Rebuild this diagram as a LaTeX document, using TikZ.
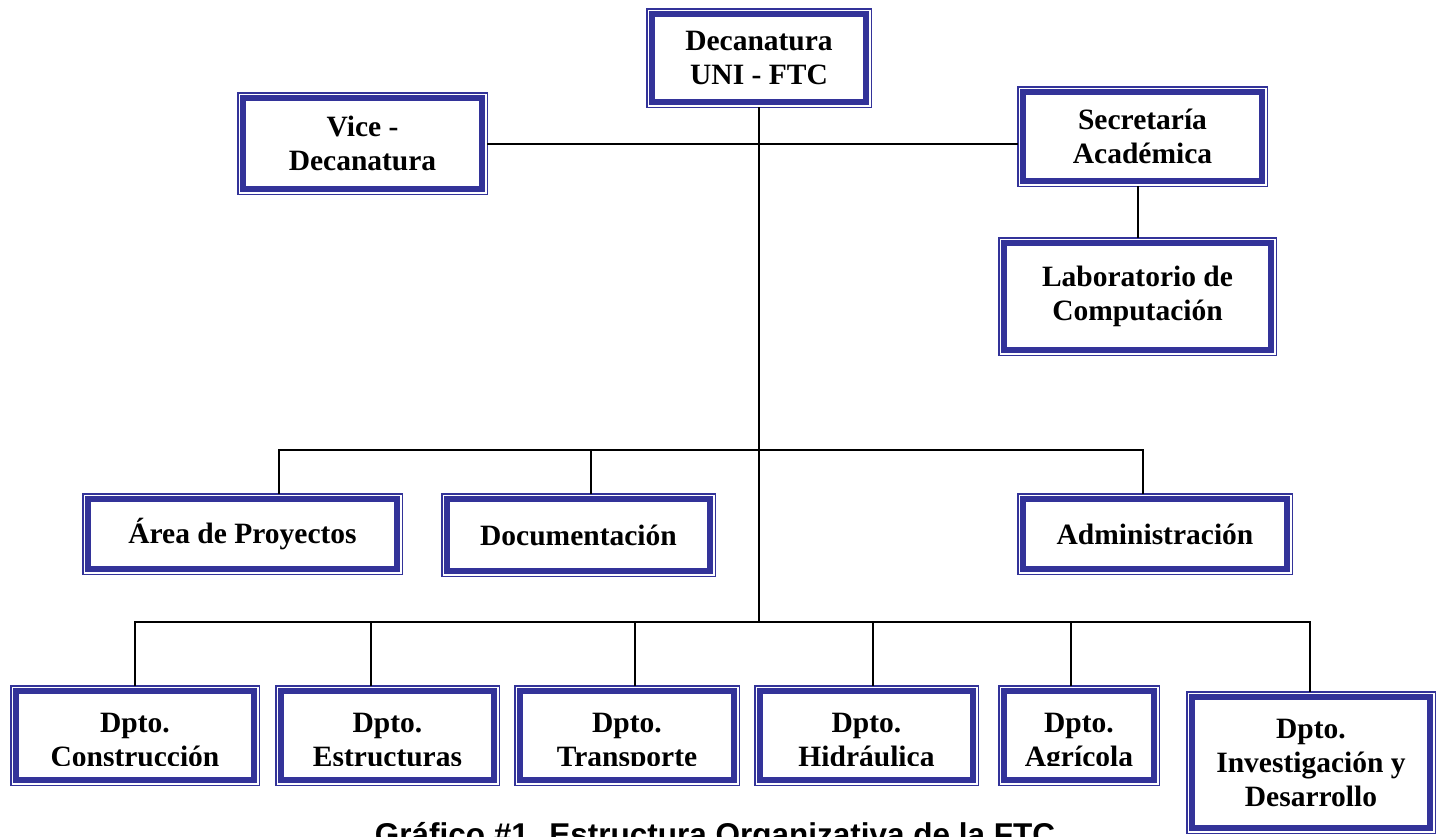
\documentclass[tikz,border=0pt]{standalone}
\usepackage{fontspec}
\setmainfont{Liberation Serif}
\newfontfamily\capfont{Liberation Sans}
\definecolor{ftcblue}{RGB}{51,51,153}
\newcommand{\boxfont}{\fontsize{29.5}{34}\selectfont\bfseries}
\tikzset{
  orgbox/.style 2 args={rectangle, fill=white, draw=ftcblue, line width=6pt,
    preaction={draw=ftcblue, line width=12pt},
    preaction={draw=white, line width=9pt},
    minimum width=#1pt-12pt, minimum height=#2pt-12pt,
    inner sep=0pt, outer sep=6pt, align=center, font=\boxfont},
  boxtext/.style={align=center, font=\boxfont, inner sep=0pt, anchor=north},
  link/.style={draw=black, line width=2pt, line cap=rect},
}

\begin{document}
\begin{tikzpicture}[x=1pt,y=-1pt]
    \useasboundingbox (0,0) rectangle (1442,836);
    % top level
    \node[orgbox={226}{100}] (deca) at (759,58) {Decanatura\\UNI - FTC};
    \node[orgbox={251}{103}] (vice) at (362.5,143.5) {Vice -\\Decanatura};
    \node[orgbox={251}{101}] (sec) at (1142.5,136.5) {Secretaría\\Académica};
    \node[orgbox={279}{119}] (lab) at (1137.5,296.5) {Laboratorio de\\Computación};
    % middle row
    \node[orgbox={321}{82}] (area) at (242.5,534) {Área de Proyectos};
    \node[orgbox={275}{84}] (docu) at (578.5,535) {Documentación};
    \node[orgbox={276}{82}] (admin) at (1155,534) {Administración};
    % departments
    \node[orgbox={250}{101}] (constr) at (135,735.5) {};
    \node[orgbox={225}{101}] (estr) at (387.5,735.5) {};
    \node[orgbox={226}{101}] (transp) at (627,735.5) {};
    \node[orgbox={225}{101}] (hidr) at (866.5,735.5) {};
    \node[orgbox={162}{101}] (agri) at (1079,735.5) {};
    \node[orgbox={250}{143}] (inv) at (1311,762.5) {Dpto.\\Investigación y\\Desarrollo};
    \begin{scope}
        \clip (0,690) rectangle (1180,765);
        \node[boxtext] (constr-t) at (135,712.5) {Dpto.\\Construcción};
        \node[boxtext] (estr-t) at (387.5,712.5) {Dpto.\\Estructuras};
        \node[boxtext] (transp-t) at (627,712.5) {Dpto.\\Transporte};
        \node[boxtext] (hidr-t) at (866.5,712.5) {Dpto.\\Hidráulica};
        \node[boxtext] (agri-t) at (1079,712.5) {Dpto.\\Agrícola};
    \end{scope}
    % connectors
    \coordinate (midbus) at (759,450);
    \coordinate (lowbus) at (759,622);
    \draw[link] (deca.south) -- (lowbus);
    \draw[link] (vice.east) -- (vice.east -| sec.west);
    \draw[link] (lab.north) -- (lab.north |- sec.south);
    \coordinate (t-area) at (279,450);
    \coordinate (t-docu) at (591,450);
    \coordinate (t-admin) at (1143,450);
    \draw[link] (t-area) -- (t-admin);
    \foreach \n in {area,docu,admin} \draw[link] (t-\n) -- (t-\n |- \n.north);
    \coordinate (t-constr) at (135,622);
    \coordinate (t-estr) at (371,622);
    \coordinate (t-transp) at (635,622);
    \coordinate (t-hidr) at (873,622);
    \coordinate (t-agri) at (1071,622);
    \coordinate (t-inv) at (1310,622);
    \draw[link] (t-constr) -- (t-inv);
    \foreach \n in {constr,estr,transp,hidr,agri,inv} \draw[link] (t-\n) -- (t-\n |- \n.north);
    % caption
    \node[font=\capfont\fontsize{31.5}{36}\selectfont\bfseries, anchor=base] (caption) at (715,845) {Gráfico \#1. Estructura Organizativa de la FTC};
\end{tikzpicture}
\end{document}
